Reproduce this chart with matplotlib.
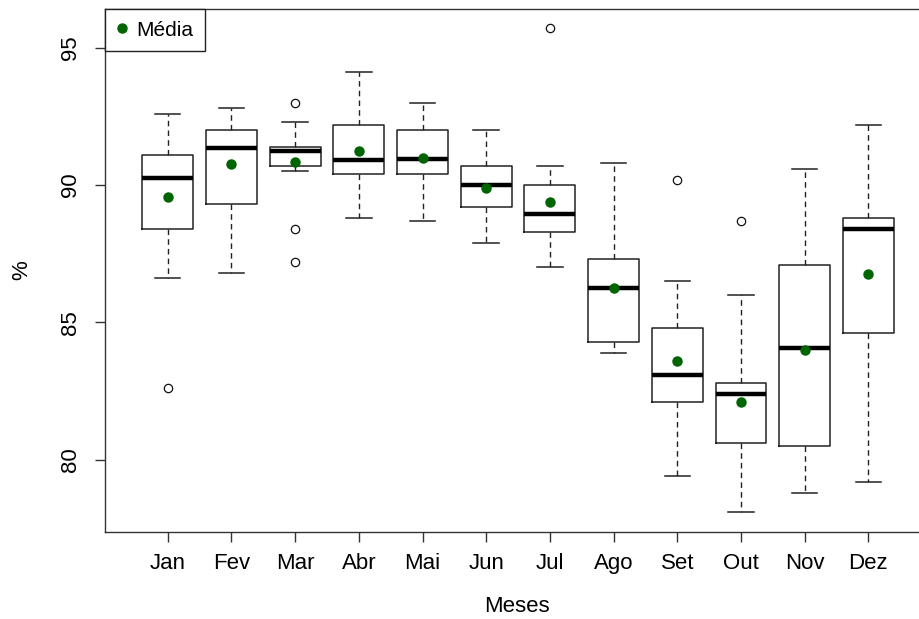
import matplotlib
matplotlib.use('Agg')
import matplotlib.pyplot as plt

plt.rcParams['font.family'] = ['Liberation Sans', 'DejaVu Sans']

meses = ['Jan', 'Fev', 'Mar', 'Abr', 'Mai', 'Jun', 'Jul', 'Ago', 'Set', 'Out', 'Nov', 'Dez']

# boxplot stats (%)
whislo = [86.6, 86.8, 90.5, 88.8, 88.7, 87.9, 87.0, 83.9, 79.4, 78.1, 78.8, 79.2]
q1 = [88.4, 89.3, 90.7, 90.4, 90.4, 89.2, 88.3, 84.3, 82.1, 80.6, 80.5, 84.6]
med = [90.25, 91.35, 91.25, 90.9, 90.95, 90.0, 88.95, 86.25, 83.1, 82.4, 84.05, 88.4]
q3 = [91.1, 92.0, 91.4, 92.2, 92.0, 90.7, 90.0, 87.3, 84.8, 82.8, 87.1, 88.8]
whishi = [92.6, 92.8, 92.3, 94.1, 93.0, 92.0, 90.7, 90.8, 86.5, 86.0, 90.6, 92.2]
outliers = [[82.6], [], [93.0, 88.4, 87.2], [], [], [], [95.7], [], [90.2], [88.7], [], []]
media = [89.55, 90.75, 90.85, 91.25, 91.0, 89.9, 89.4, 86.25, 83.6, 82.1, 84.0, 86.75]

stats = []
for i in range(len(meses)):
    stats.append({'whislo': whislo[i], 'q1': q1[i], 'med': med[i], 'q3': q3[i],
                  'whishi': whishi[i], 'fliers': outliers[i], 'label': meses[i]})

fig = plt.figure(figsize=(9.19, 6.19), dpi=100)
ax = fig.add_axes([0.1143, 0.141, 0.902, 0.8445])

pos = list(range(1, len(meses) + 1))
ax.bxp(stats, positions=pos, widths=0.8, showfliers=True,
       boxprops=dict(color='#222222', linewidth=1.1),
       medianprops=dict(color='black', linewidth=3.2, solid_capstyle='butt'),
       whiskerprops=dict(color='#222222', linewidth=1.0, linestyle=(0, (4, 3))),
       capprops=dict(color='#222222', linewidth=1.1),
       capwidths=0.4,
       flierprops=dict(marker='o', markersize=6, markerfacecolor='white',
                       markeredgecolor='#111111', markeredgewidth=0.9))

ax.plot(pos, media, 'o', color='#006400', markersize=6.5, label='Média', zorder=5)

ax.set_xlim(0.016, 13.03)
ax.set_ylim(77.38, 96.41)
ax.set_yticks([80, 85, 90, 95])
ax.set_xticks(pos)
ax.set_xticklabels(meses)

for s in ['top', 'left', 'bottom', 'right']:
    ax.spines[s].set_color('#333333')
    ax.spines[s].set_linewidth(1.0)

ax.tick_params(axis='both', length=7.5, width=1.0, color='#333333', labelsize=16)
ax.tick_params(axis='x', pad=8)
ax.tick_params(axis='y', pad=10, labelrotation=90)
for t in ax.get_yticklabels():
    t.set_va('center')

ax.set_xlabel('Meses', fontsize=16)
ax.xaxis.set_label_coords(0.497, -0.144)
ax.xaxis.label.set_va('center')
ax.set_ylabel('%', fontsize=16)
ax.yaxis.set_label_coords(-0.100, 0.5)
ax.yaxis.label.set_va('center')

leg = ax.legend(loc='upper left', bbox_to_anchor=(0, 1), borderaxespad=0,
                fancybox=False, edgecolor='#222222', framealpha=1, fontsize=15,
                handlelength=0.5, handletextpad=0.45, borderpad=0.56, markerscale=1.0)
leg.get_frame().set_linewidth(1.0)

fig.savefig('out.png', dpi=100)
